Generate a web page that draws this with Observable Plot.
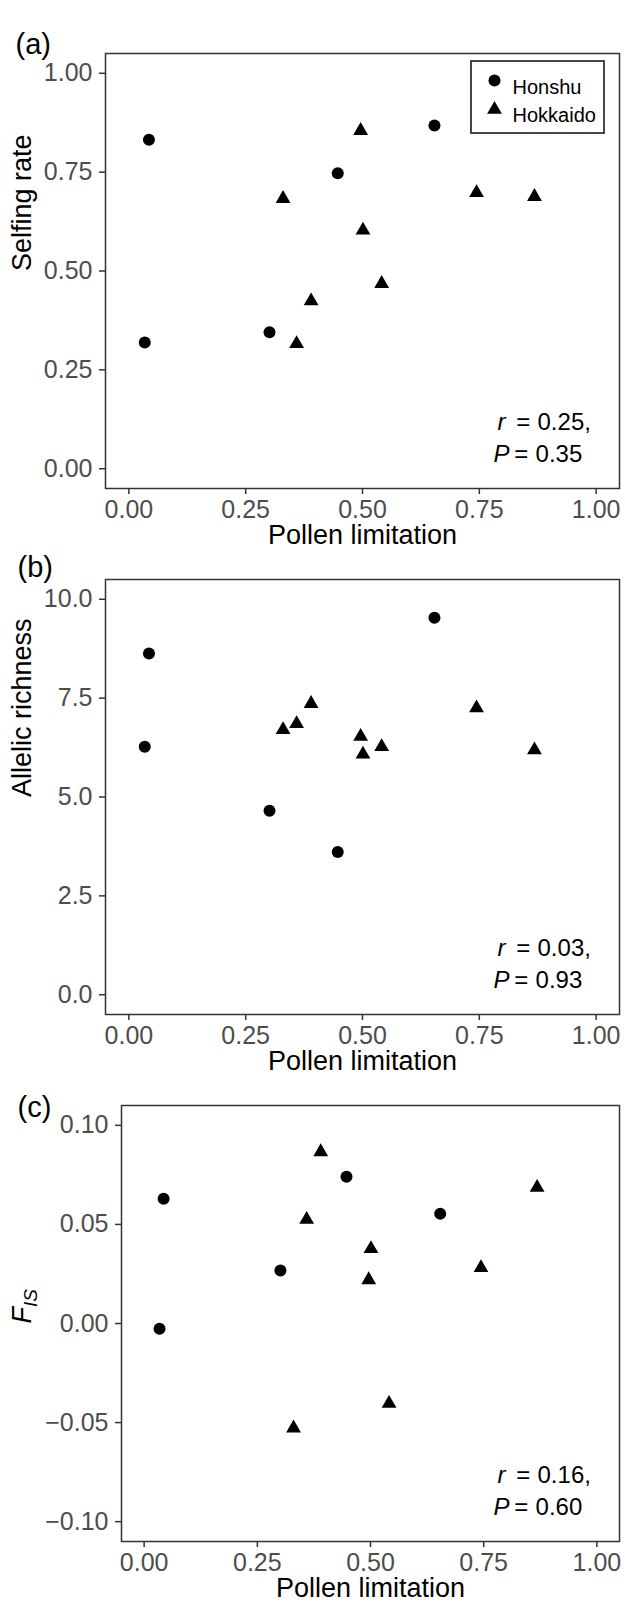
<!DOCTYPE html>
<html>
<head>
<meta charset="utf-8">
<script src="https://cdn.jsdelivr.net/npm/d3@7"></script>
<script src="https://cdn.jsdelivr.net/npm/@observablehq/plot@0.6"></script>
<style>
  body { margin: 0; background: white; }
  #chart svg { display: block; }
</style>
</head>
<body>
<div id="chart"></div>
<script>
// 13 poblaciones: 5 de Honshu y 8 de Hokkaido
const populations = ["Honshu", "Hokkaido"]
const population = ["Honshu", "Honshu", "Honshu", "Honshu", "Honshu",
  "Hokkaido", "Hokkaido", "Hokkaido", "Hokkaido", "Hokkaido", "Hokkaido", "Hokkaido", "Hokkaido"]
const pollenLimitation = [0.043, 0.034, 0.301, 0.447, 0.654, 0.496, 0.501, 0.330, 0.359, 0.390, 0.541, 0.744, 0.868]
const selfingRate = [0.832, 0.319, 0.345, 0.747, 0.868, 0.855, 0.603, 0.683, 0.316, 0.424, 0.468, 0.698, 0.688]
const allelicRichness = [8.63, 6.27, 4.65, 3.61, 9.53, 6.53, 6.08, 6.70, 6.85, 7.36, 6.27, 7.25, 6.19]
const fis = [0.0629, -0.0026, 0.0267, 0.0741, 0.0554, 0.0220, 0.0377, -0.0528, 0.0525, 0.0866, -0.0404, 0.0281, 0.0686]

const xTicks = [0, 0.25, 0.5, 0.75, 1]
const selfingTicks = [0, 0.25, 0.5, 0.75, 1]
const richnessTicks = [0, 2.5, 5, 7.5, 10]
const fisTicks = [-0.1, -0.05, 0, 0.05, 0.1]

const rValues = ["0.25", "0.03", "0.16"]
const pValues = ["0.35", "0.93", "0.60"]

const font = "'Liberation Sans', Arial, Helvetica, sans-serif"

function rows(values) {
  return values.map((v, i) => ({pop: population[i], pl: pollenLimitation[i], v}))
}

// cambia el texto "key" por tspans (cursiva, subindice)
function richText(svg, key, parts) {
  d3.select(svg).selectAll("text").filter(function() { return this.textContent === key }).each(function() {
    const t = d3.select(this).text("")
    parts.forEach(p => {
      const s = t.append("tspan").text(p.t)
      if (p.italic) s.attr("font-style", "italic")
      if (p.size) s.attr("font-size", p.size)
      if (p.dx) s.attr("dx", p.dx)
      if (p.dy) s.attr("dy", p.dy)
    })
  })
}

function panel(o) {
  const data = rows(o.values)
  const svg = Plot.plot({
    width: 625,
    height: o.height,
    marginTop: o.marginTop,
    marginBottom: o.marginBottom,
    marginLeft: o.marginLeft,
    marginRight: 6,
    style: {fontFamily: font, fontSize: "25px", background: "white", overflow: "visible"},
    x: {domain: [-0.05, 1.05]},
    y: {domain: o.yDomain},
    symbol: {domain: populations, range: ["circle", "triangle"]},
    marks: [
      Plot.frame({stroke: "#333333", strokeWidth: 1.5}),
      Plot.axisX(xTicks, {tickFormat: d3.format(".2f"), tickSize: 6, tickPadding: 6, stroke: "#333333",
        strokeWidth: 1.5, fill: "#4d4d4d", fontSize: 25, label: null}),
      Plot.axisY(o.ticks, {tickFormat: d3.format(o.format), tickSize: 6, tickPadding: 7, stroke: "#333333",
        strokeWidth: 1.5, fill: "#4d4d4d", fontSize: 25, label: null}),
      Plot.dot(data.filter(d => d.pop === "Honshu"), {x: "pl", y: "v", symbol: "pop", fill: "black", r: 6}),
      Plot.dot(data.filter(d => d.pop === "Hokkaido"), {x: "pl", y: "v", symbol: "pop", fill: "black", r: 5.5}),
      Plot.text(["Pollen limitation"], {text: d => d, frameAnchor: "bottom", dy: 55, fontSize: 27, fill: "black"}),
      Plot.text([o.yLabel], {text: d => d, frameAnchor: "left", rotate: -90, dx: 22 - o.marginLeft,
        fontSize: 27, fill: "black"}),
      Plot.text([o.tag], {text: d => d, frameAnchor: "top-left", textAnchor: "start", dx: o.tagDx, dy: o.tagDy,
        fontSize: 29, fill: "black"}),
      Plot.text(["stat-r"], {text: d => d, frameAnchor: "bottom-right", textAnchor: "start", dx: -122, dy: -59,
        fontSize: 24, fill: "black"}),
      Plot.text(["stat-p"], {text: d => d, frameAnchor: "bottom-right", textAnchor: "start", dx: -126, dy: -27,
        fontSize: 24, fill: "black"}),
      ...(o.legend ? [
        (index, scales, values, dims) => {
          const g = d3.create("svg:g")
          g.append("rect")
            .attr("x", dims.width - dims.marginRight - 148)
            .attr("y", dims.marginTop + 8)
            .attr("width", 133)
            .attr("height", 72)
            .attr("fill", "white")
            .attr("stroke", "#333333")
            .attr("stroke-width", 1.8)
          return g.node()
        },
        Plot.dot([populations[0]], {frameAnchor: "top-right", dx: -125, dy: 27, symbol: d => d, fill: "black", r: 6}),
        Plot.dot([populations[1]], {frameAnchor: "top-right", dx: -125, dy: 56, symbol: d => d, fill: "black", r: 5.5}),
        Plot.text([populations[0]], {text: d => d, frameAnchor: "top-right", textAnchor: "start", dx: -107, dy: 26,
          fontSize: 20, fill: "black"}),
        Plot.text([populations[1]], {text: d => d, frameAnchor: "top-right", textAnchor: "start", dx: -107, dy: 54.5,
          fontSize: 20, fill: "black"})
      ] : [])
    ]
  })
  richText(svg, "stat-r", [{t: "r", italic: true}, {t: "=", dx: "0.45em"}, {t: rValues[o.i] + ",", dx: "0.3em"}])
  richText(svg, "stat-p", [{t: "P", italic: true}, {t: "=", dx: "0.2em"}, {t: pValues[o.i], dx: "0.3em"}])
  richText(svg, "FIS", [{t: "F", italic: true}, {t: "IS", italic: true, size: "70%", dy: "0.3em"}])
  return svg
}

const chart = d3.select("#chart")

chart.append(() => panel({
  i: 0, values: selfingRate, yDomain: [-0.05, 1.05], ticks: selfingTicks, format: ".2f",
  yLabel: "Selfing rate", tag: "(a)", height: 535, marginTop: 53, marginBottom: 47, marginLeft: 105,
  tagDx: -90, tagDy: -20, legend: true
}))

chart.append(() => panel({
  i: 1, values: allelicRichness, yDomain: [-0.5, 10.5], ticks: richnessTicks, format: ".1f",
  yLabel: "Allelic richness", tag: "(b)", height: 525, marginTop: 44, marginBottom: 46, marginLeft: 105,
  tagDx: -88, tagDy: -23
}))

chart.append(() => panel({
  i: 2, values: fis, yDomain: [-0.11, 0.11], ticks: fisTicks, format: ".2f",
  yLabel: "FIS", tag: "(c)", height: 544, marginTop: 45, marginBottom: 63, marginLeft: 121,
  tagDx: -104, tagDy: -9
}))
</script>
</body>
</html>
